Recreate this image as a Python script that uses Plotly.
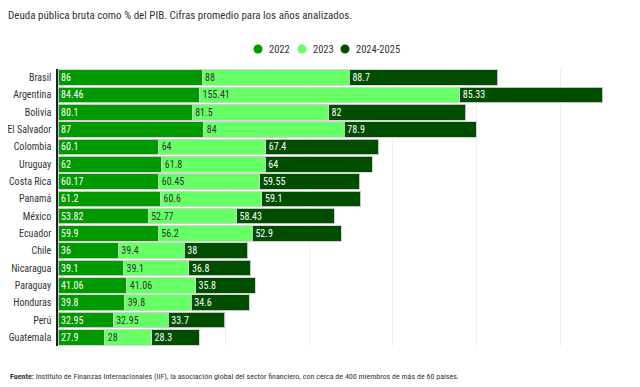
import plotly.graph_objects as go

countries = ["Brasil", "Argentina", "Bolivia", "El Salvador", "Colombia", "Uruguay",
             "Costa Rica", "Panamá", "México", "Ecuador", "Chile", "Nicaragua",
             "Paraguay", "Honduras", "Perú", "Guatemala"]
v2022 = [86, 84.46, 80.1, 87, 60.1, 62, 60.17, 61.2, 53.82, 59.9, 36, 39.1, 41.06, 39.8, 32.95, 27.9]
v2023 = [88, 155.41, 81.5, 84, 64, 61.8, 60.45, 60.6, 52.77, 56.2, 39.4, 39.1, 41.06, 39.8, 32.95, 28]
v2425 = [88.7, 85.33, 82, 78.9, 67.4, 64, 59.55, 59.1, 58.43, 52.9, 38, 36.8, 35.8, 34.6, 33.7, 28.3]
series_names = ["2022", "2023", "2024-2025"]
colors = ["#009900", "#66ff66", "#004d00"]
text_colors = ["#ffffff", "#333333", "#ffffff"]

FONT = "Liberation Sans Narrow, Roboto Condensed, Roboto, Liberation Sans, sans-serif"

# page is drawn with an 8px body margin, so the figure is laid out 8px smaller
W, H = 632, 379
L, R, T, B = 50, 21, 61, 41
PW, PH = W - L - R, H - T - B

fig = go.Figure()
for name, vals, col, tcol in zip(series_names, [v2022, v2023, v2425], colors, text_colors):
    fig.add_trace(go.Bar(
        y=countries, x=vals, orientation="h", name=name,
        marker=dict(color=col, line=dict(color="rgba(210,210,210,0.9)", width=1)),
        text=[str(v) for v in vals], textposition="inside", insidetextanchor="start",
        textangle=0,
        textfont=dict(color=tcol, size=10, family=FONT), constraintext="none",
        showlegend=False, hoverinfo="skip",
    ))

# legend drawn as circles + text (positions in pixels from the figure's left)
legend_px = [200, 244, 287]   # circle centre, relative to plot-area left edge
legend_y = 1 + 20 / PH
shapes, annotations = [], []
for name, col, px in zip(series_names, colors, legend_px):
    xc = px / PW
    shapes.append(dict(type="circle", xref="paper", yref="paper", xsizemode="pixel",
                       ysizemode="pixel", xanchor=xc, yanchor=legend_y,
                       x0=-4.5, x1=4.5, y0=-4.5, y1=4.5,
                       fillcolor=col, line=dict(width=0)))
    annotations.append(dict(text=name, xref="paper", yref="paper", x=(px + 9) / PW, y=legend_y,
                            xanchor="left", yanchor="middle", showarrow=False,
                            font=dict(size=10.5, color="#333333", family=FONT)))

annotations.append(dict(
    text="<b>Fuente:</b> Instituto de Finanzas Internacionales (IIF), la asociación global del sector financiero, con cerca de 400 miembros de más de 60 países.",
    xref="paper", yref="paper", x=-L / PW, y=-30 / PH,
    xanchor="left", yanchor="middle", showarrow=False,
    font=dict(size=8, color="#333333", family=FONT)))

fig.update_layout(
    barmode="stack", bargap=0.1,
    width=W, height=H,
    margin=dict(l=L, r=R, t=T, b=B, autoexpand=False),
    paper_bgcolor="white", plot_bgcolor="white",
    font=dict(family=FONT, color="#333333", size=10),
    showlegend=False,
    title=dict(text="Deuda pública bruta como % del PIB. Cifras promedio para los años analizados.",
               xref="container", yref="container", x=0, y=1 - 7 / H,
               xanchor="left", yanchor="middle", pad=dict(l=0, r=0, t=0, b=0),
               font=dict(size=11, color="#333333", family=FONT)),
    shapes=shapes,
    annotations=annotations,
)
fig.update_xaxes(range=[0, 335], showticklabels=False, showgrid=True, gridcolor="#eeeeee",
                 gridwidth=1, zeroline=False, dtick=50, tick0=0, fixedrange=True, automargin=False)
fig.update_yaxes(autorange="reversed", showline=True, linecolor="#222222", linewidth=1.5,
                 ticks="outside", ticklen=3, tickcolor="rgba(0,0,0,0)", automargin=False,
                 tickfont=dict(size=10, color="#333333", family=FONT), fixedrange=True)

fig.write_html("out.html")
